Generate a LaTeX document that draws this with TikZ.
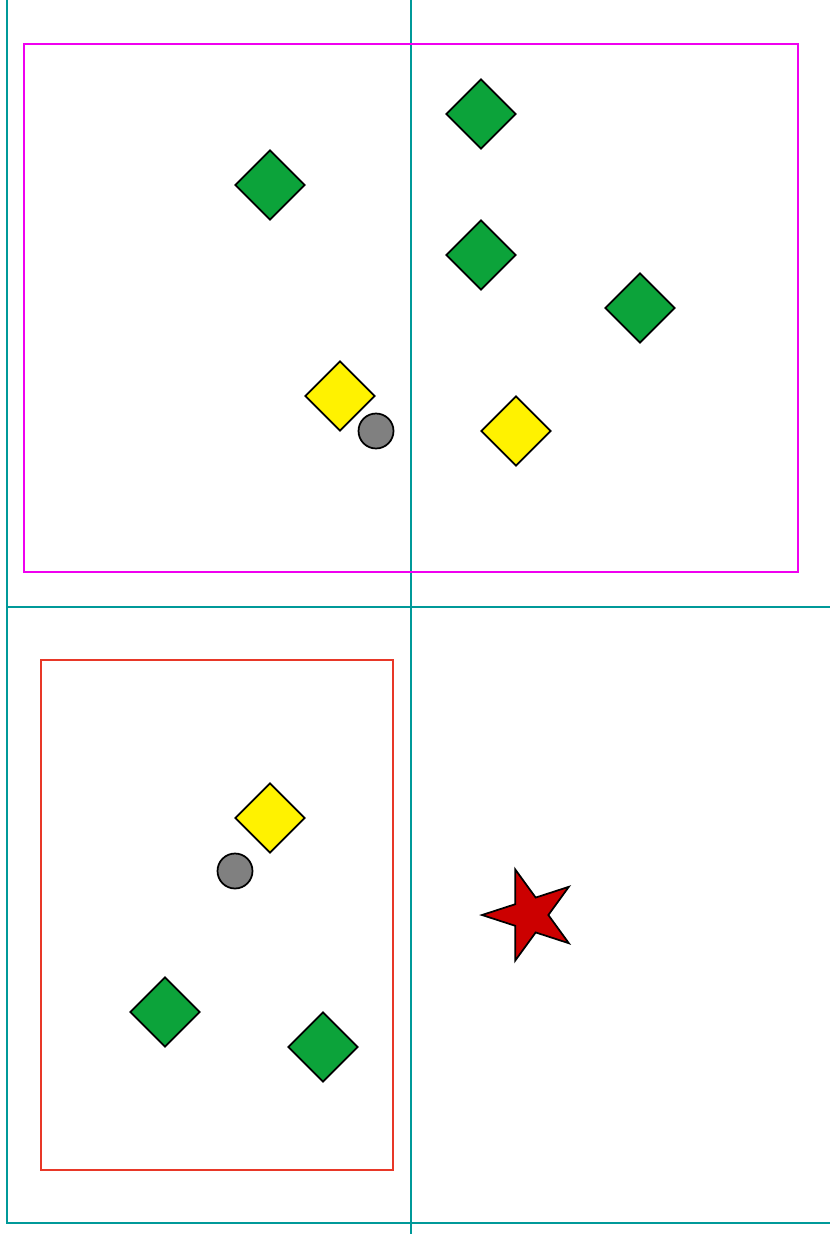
\documentclass[tikz,border=0pt]{standalone}
\usetikzlibrary{shapes.geometric}

\definecolor{gridteal}{RGB}{0,153,153}
\definecolor{boxmagenta}{RGB}{240,0,240}
\definecolor{boxred}{RGB}{232,56,40}
\definecolor{gemgreen}{RGB}{12,163,58}
\definecolor{starred}{RGB}{204,0,0}

\tikzset{
  gem/.style={diamond, draw=black, line width=1.3pt, inner sep=0pt, minimum width=52.5pt, minimum height=52.5pt},
  greengem/.style={gem, fill=gemgreen},
  yellowgem/.style={gem, fill=yellow},
  pebble/.style={circle, draw=black, line width=1.3pt, fill=gray, inner sep=0pt, minimum size=26.25pt},
}

\begin{document}
\begin{tikzpicture}[x=0.75pt, y=-0.75pt]
  \useasboundingbox (0,0) rectangle (830,1234);

  % Raster
  \draw[gridteal, line width=2.2pt] (7,0) -- (7,1223) -- (830,1223);
  \draw[gridteal, line width=2.2pt] (411,0) -- (411,1234);
  \draw[gridteal, line width=2.2pt] (7,607) -- (830,607);

  % Rahmen
  \draw[boxmagenta, line width=1.6pt] (24,44) rectangle (798,572);
  \draw[boxred, line width=1.6pt] (41,660) rectangle (393,1170);

  % oben
  \node[greengem]  (g1) at (270,185) {};
  \node[greengem]  (g2) at (481,114) {};
  \node[greengem]  (g3) at (481,255) {};
  \node[greengem]  (g4) at (640,308) {};
  \node[yellowgem] (y1) at (340,396) {};
  \node[yellowgem] (y2) at (516,431) {};
  \node[pebble]    (p1) at (376,431) {};

  % unten
  \node[yellowgem] (y3) at (270,818) {};
  \node[pebble]    (p2) at (235,871) {};
  \node[greengem]  (g5) at (165,1012) {};
  \node[greengem]  (g6) at (323,1047) {};

  \node[star, star points=5, star point ratio=2.618, shape border rotate=90,
        draw=black, line width=1.3pt, fill=starred, inner sep=0pt,
        minimum size=72pt] (s1) at (530,915) {};
\end{tikzpicture}
\end{document}
